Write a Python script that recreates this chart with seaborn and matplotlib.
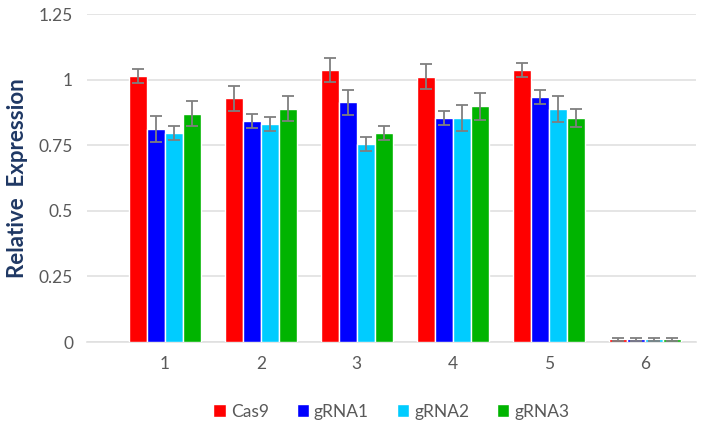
import matplotlib
matplotlib.use("Agg")
import matplotlib.pyplot as plt
import seaborn as sns
import pandas as pd
import numpy as np

groups = ["1", "2", "3", "4", "5", "6"]
series = ["Cas9", "gRNA1", "gRNA2", "gRNA3"]
cas9 = [1.014, 0.929, 1.037, 1.012, 1.037, 0.010]
grna1 = [0.812, 0.841, 0.913, 0.854, 0.934, 0.010]
grna2 = [0.797, 0.832, 0.756, 0.854, 0.888, 0.010]
grna3 = [0.871, 0.889, 0.797, 0.899, 0.854, 0.010]
cas9_err = [0.028, 0.047, 0.046, 0.048, 0.028, 0.007]
grna1_err = [0.048, 0.027, 0.048, 0.027, 0.028, 0.007]
grna2_err = [0.028, 0.027, 0.027, 0.051, 0.051, 0.007]
grna3_err = [0.049, 0.048, 0.028, 0.051, 0.036, 0.007]
colors = ["#FF0000", "#0000FF", "#00CCFF", "#00B400"]
yticks = [0, 0.25, 0.5, 0.75, 1, 1.25]
ytick_labels = ["0", "0.25", "0.5", "0.75", "1", "1.25"]

vals = [cas9, grna1, grna2, grna3]
errs = [cas9_err, grna1_err, grna2_err, grna3_err]
rows = []
for s, v in zip(series, vals):
    for g, val in zip(groups, v):
        rows.append({"group": g, "series": s, "value": val})
df = pd.DataFrame(rows)

sns.set_style("white")
plt.rcParams["font.family"] = ["Lato", "DejaVu Sans"]

fig = plt.figure(figsize=(7.07, 4.26), dpi=100)
ax = fig.add_axes([0.123, 0.197, 0.861, 0.770])

sns.barplot(data=df, x="group", y="value", hue="series", palette=colors,
            saturation=1, width=0.75, edgecolor="white", linewidth=1.0, ax=ax,
            errorbar=None, zorder=3)

for cont, e in zip(ax.containers, errs):
    xs = [p.get_x() + p.get_width() / 2 for p in cont.patches]
    hs = [p.get_height() for p in cont.patches]
    ax.errorbar(xs, hs, yerr=e, fmt="none", ecolor="#7F7F7F", elinewidth=1.3,
                capsize=4, capthick=1.3, zorder=4)

ax.set_ylim(0, 1.25)
ax.set_xlim(-0.81, 5.53)
ax.set_yticks(yticks)
ax.set_yticklabels(ytick_labels)
ax.grid(axis="y", color="#E0E0E0", linewidth=1.2, zorder=0)
ax.set_axisbelow(True)
for sp in ["top", "right", "left"]:
    ax.spines[sp].set_visible(False)
ax.spines["bottom"].set_color("#E0E0E0")
ax.spines["bottom"].set_linewidth(1.2)
ax.tick_params(axis="both", length=0, labelsize=12.5, colors="#595959", pad=10)
ax.set_xlabel("")
ax.set_ylabel("Relative  Expression", fontsize=16, fontweight="bold",
              color="#1F3864", labelpad=8)

leg = ax.legend(loc="upper center", bbox_to_anchor=(0.5, -0.14), ncol=4,
                frameon=False, fontsize=12.5, handlelength=0.7, handleheight=0.7,
                handletextpad=0.3, columnspacing=1.6)
for t in leg.get_texts():
    t.set_color("#595959")

fig.savefig("out.png", dpi=100)
